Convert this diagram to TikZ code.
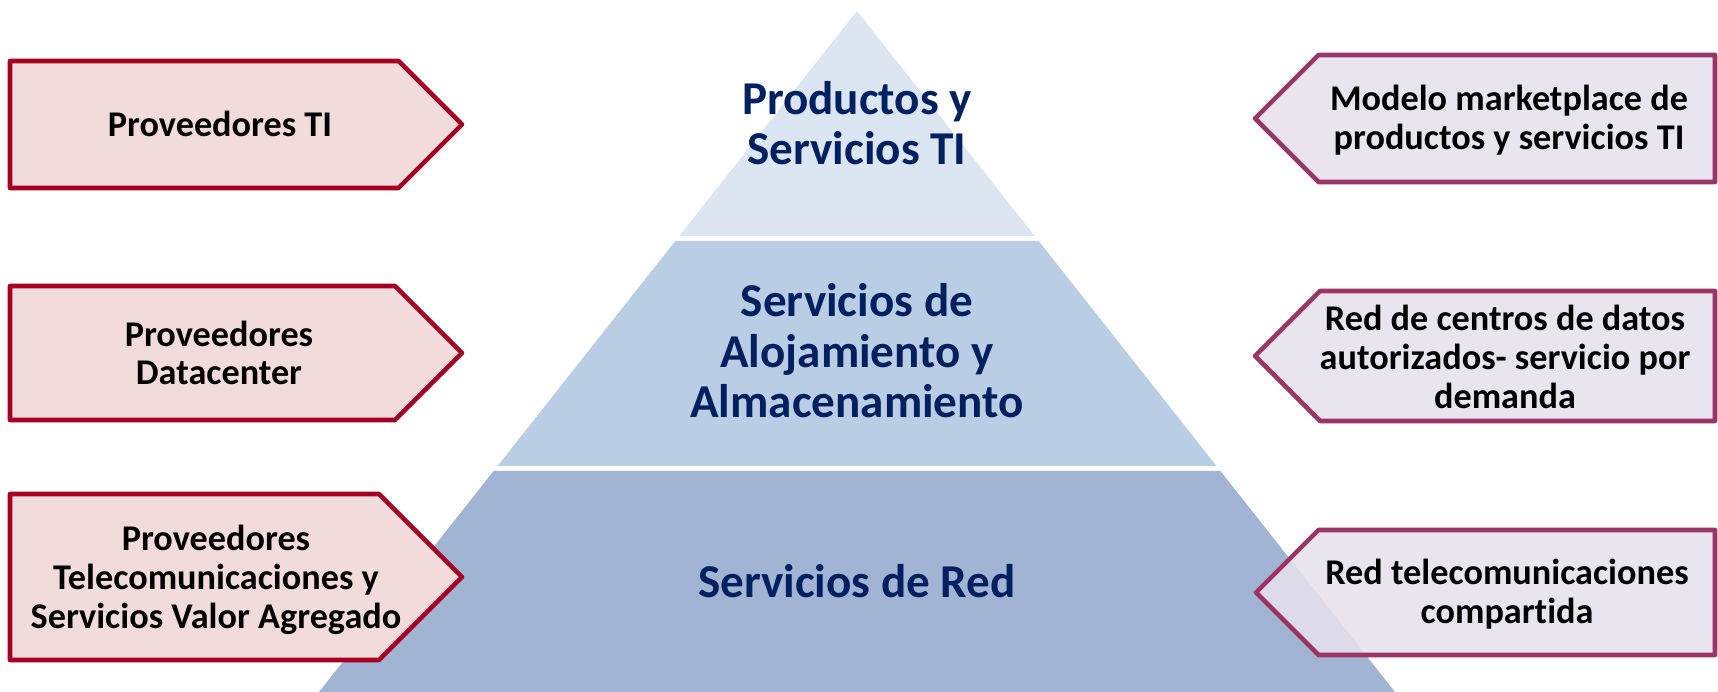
\documentclass[tikz,border=0pt]{standalone}
\usepackage{fontspec}
\setmainfont{Carlito}[RawFeature={-liga}]
\definecolor{tierA}{HTML}{DCE6F2}
\definecolor{tierB}{HTML}{B9CDE5}
\definecolor{tierC}{HTML}{A2B4D4}
\definecolor{navy}{HTML}{002060}
\definecolor{lred}{HTML}{A50021}
\definecolor{lpink}{HTML}{F2DCDB}
\definecolor{rplum}{HTML}{9A3566}
\definecolor{rlav}{HTML}{E6E0EC}
\begin{document}
\begin{tikzpicture}[x=0.01cm,y=-0.01cm,
  lbox/.style={draw=lred, fill=lpink, line width=1.3pt, line join=round},
  rbox/.style={draw=rplum, fill=rlav, fill opacity=0.88, line width=1.3pt, line join=round},
  ptext/.style={text=navy, font=\fontsize{13.4}{14.4}\selectfont\bfseries, align=center, inner sep=0pt},
  btext/.style={text=black, font=\fontsize{10.3}{11}\selectfont\bfseries, align=center, inner sep=0pt}]
\useasboundingbox (0,0) rectangle (1718,692);
% pyramid tiers
\fill[tierA] (857,11) -- (1034.75,236) -- (679.25,236) -- cycle;
\fill[tierB] (675.3,241) -- (1038.7,241) -- (1216.45,466) -- (497.55,466) -- cycle;
\fill[tierC] (493.6,471) -- (1220.4,471) -- (1395,692) -- (319,692) -- cycle;
% pyramid labels
\node[ptext] (p1) at (857,123) {Productos y\\Servicios TI};
\node[ptext] (p2) at (857,351) {Servicios de\\Alojamiento y\\Almacenamiento};
\node[ptext] (p3) at (857,581) {Servicios de Red};
% left boxes
\draw[lbox] (10,61) -- (398.5,61) -- (462,124.5) -- (398.5,188) -- (10,188) -- cycle;
\draw[lbox] (10,286) -- (395,286) -- (462,353) -- (395,420) -- (10,420) -- cycle;
\draw[lbox] (10,494) -- (379,494) -- (462,577) -- (379,660) -- (10,660) -- cycle;
\node[btext] (l1) at (220,124) {Proveedores TI};
\node[btext] (l2) at (219,353) {Proveedores\\Datacenter};
\node[btext] (l3) at (216,580) {Proveedores\\Telecomunicaciones y\\Servicios Valor Agregado};
% right boxes
\draw[rbox] (1715,55) -- (1318.5,55) -- (1255,118.5) -- (1318.5,182) -- (1715,182) -- cycle;
\draw[rbox] (1715,291) -- (1320,291) -- (1255,356) -- (1320,421) -- (1715,421) -- cycle;
\draw[rbox] (1715,530) -- (1318.5,530) -- (1256,592.5) -- (1318.5,655) -- (1715,655) -- cycle;
\node[btext] (r1) at (1509,120) {Modelo marketplace de\\productos y servicios TI};
\node[btext] (r2) at (1505,357) {Red de centros de datos\\autorizados- servicio por\\demanda};
\node[btext] (r3) at (1507,594) {Red telecomunicaciones\\compartida};
\end{tikzpicture}
\end{document}
